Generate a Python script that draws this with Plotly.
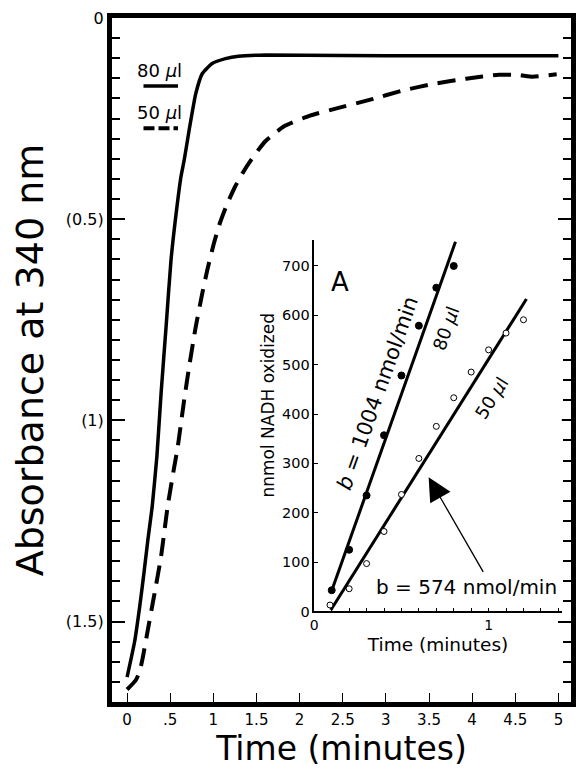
import plotly.graph_objects as go

# ---- main curves (absorbance vs time) ----
t80 = [0, 0.088, 0.146, 0.195, 0.241, 0.291, 0.345, 0.394, 0.452, 0.509, 0.573, 0.624, 0.662,
       0.719, 0.796, 0.872, 0.986, 1.14, 1.29, 1.6, 2.5, 3.5, 5.0]
a80 = [1.638, 1.549, 1.463, 1.380, 1.297, 1.214, 1.09, 0.933, 0.767, 0.602, 0.478, 0.395, 0.353,
       0.279, 0.188, 0.138, 0.113, 0.101, 0.095, 0.092, 0.093, 0.094, 0.094]

t50 = [0, 0.1, 0.146, 0.184, 0.241, 0.318, 0.394, 0.47, 0.547, 0.585, 0.662, 0.719, 0.796,
       0.872, 0.929, 1.006, 1.08, 1.16, 1.25, 1.34, 1.44, 1.6, 1.83, 2.13, 2.44,
       2.82, 3.2, 3.57, 3.93, 4.31, 4.54, 4.70, 4.98]
a50 = [1.669, 1.646, 1.624, 1.587, 1.52, 1.43, 1.338, 1.214, 1.115, 1.069, 0.949, 0.867, 0.767,
       0.684, 0.627, 0.56, 0.507, 0.462, 0.42, 0.385, 0.352, 0.307, 0.268, 0.242, 0.224,
       0.203, 0.180, 0.163, 0.151, 0.141, 0.142, 0.146, 0.140]

x_tickvals = [0, 0.5, 1, 1.5, 2, 2.5, 3, 3.5, 4, 4.5, 5]
x_ticktext = ["0", ".5", "1", "1.5", "2", "2.5", "3", "3.5", "4", "4.5", "5"]
y_tickvals = [0, 0.5, 1, 1.5]
y_ticktext = ["0", "(0.5)", "(1)", "(1.5)"]

# legend sample glyphs (main plot, data units)
legend_x = [0.19, 0.59]
legend80_y = [0.169, 0.169]
legend50_y = [0.274, 0.274]

# ---- inset (nmol NADH oxidized vs time) ----
t_in80 = [0.1, 0.2, 0.3, 0.4, 0.5, 0.6, 0.7, 0.8]
n80 = [43, 125, 235, 357, 478, 579, 656, 700]
t_in50 = [0.09, 0.2, 0.3, 0.4, 0.5, 0.6, 0.7, 0.8, 0.9, 1.0, 1.1, 1.2]
n50 = [13, 46, 97, 162, 237, 310, 375, 433, 485, 530, 564, 591]
fit80_t = [0.10, 0.81]
fit80_n = [42, 749]
fit50_t = [0.095, 1.217]
fit50_n = [3, 633]
inset_y_ticks = [0, 100, 200, 300, 400, 500, 600, 700]

FONT = "DejaVu Sans"
fig = go.Figure()

fig.add_trace(go.Scatter(x=t80, y=a80, mode="lines",
                         line=dict(color="black", width=3.5, shape="spline", smoothing=0.5),
                         showlegend=False))
fig.add_trace(go.Scatter(x=t50, y=a50, mode="lines",
                         line=dict(color="black", width=4, dash="18px,10px", shape="spline", smoothing=0.5),
                         showlegend=False))
fig.add_trace(go.Scatter(x=legend_x, y=legend80_y, mode="lines",
                         line=dict(color="black", width=3.5), showlegend=False))
fig.add_trace(go.Scatter(x=legend_x, y=legend50_y, mode="lines",
                         line=dict(color="black", width=4, dash="11px,4px"), showlegend=False))

# inset traces
fig.add_trace(go.Scatter(x=fit80_t, y=fit80_n, mode="lines", xaxis="x2", yaxis="y2",
                         line=dict(color="black", width=3), showlegend=False))
fig.add_trace(go.Scatter(x=fit50_t, y=fit50_n, mode="lines", xaxis="x2", yaxis="y2",
                         line=dict(color="black", width=3), showlegend=False))
fig.add_trace(go.Scatter(x=t_in80, y=n80, mode="markers", xaxis="x2", yaxis="y2",
                         marker=dict(color="black", size=7, line=dict(color="black", width=1)),
                         showlegend=False))
fig.add_trace(go.Scatter(x=t_in50, y=n50, mode="markers", xaxis="x2", yaxis="y2",
                         marker=dict(color="white", size=6, line=dict(color="black", width=1)),
                         showlegend=False))

annotations = [
    dict(x=0.381, y=0.130, xref="x", yref="y", text="80 <i>µ</i>l", showarrow=False,
         font=dict(family=FONT, size=18, color="black")),
    dict(x=0.381, y=0.235, xref="x", yref="y", text="50 <i>µ</i>l", showarrow=False,
         font=dict(family=FONT, size=18, color="black")),
    dict(x=0.145, y=667, xref="x2", yref="y2", text="A", showarrow=False,
         font=dict(family=FONT, size=26, color="black")),
    dict(x=0.365, y=442, xref="x2", yref="y2", text="<i>b</i> = 1004 nmol/min", showarrow=False,
         textangle=-70.4, font=dict(family=FONT, size=21, color="black")),
    dict(x=0.753, y=574, xref="x2", yref="y2", text="80 <i>µ</i>l", showarrow=False,
         textangle=-70.4, font=dict(family=FONT, size=18, color="black")),
    dict(x=1.014, y=432, xref="x2", yref="y2", text="50 <i>µ</i>l", showarrow=False,
         textangle=-57.6, font=dict(family=FONT, size=18, color="black")),
    dict(x=0.872, y=49, xref="x2", yref="y2", text="b = 574 nmol/min", showarrow=False,
         font=dict(family=FONT, size=20, color="black")),
    dict(x=0.656, y=272, xref="x2", yref="y2", ax=0.974, ay=77, axref="x2", ayref="y2",
         text="", showarrow=True, arrowhead=2, arrowsize=3.6, arrowwidth=1.3, arrowcolor="black"),
    # inset y-axis title
    dict(x=0.3405, y=0.4338, xref="paper", yref="paper", text="nnmol NADH oxidized",
         showarrow=False, textangle=-90, font=dict(family=FONT, size=17, color="black")),
]

fig.update_layout(
    width=579, height=775,
    margin=dict(l=112, r=3, t=18, b=73),
    paper_bgcolor="white", plot_bgcolor="white",
    font=dict(family=FONT, color="black"),
    xaxis=dict(range=[-0.175, 5.146], tickmode="array", tickvals=x_tickvals, ticktext=x_ticktext,
               ticks="inside", ticklen=9, tickwidth=1.3, tickcolor="black",
               showline=True, linewidth=5, linecolor="black", mirror=True,
               showgrid=False, zeroline=False, tickfont=dict(size=15),
               title=dict(text="Time (minutes)", font=dict(size=33), standoff=10)),
    yaxis=dict(range=[1.70, 0], tickmode="array", tickvals=y_tickvals, ticktext=y_ticktext,
               ticks="inside", ticklen=13, tickwidth=1.5, tickcolor="black",
               minor=dict(tickmode="linear", tick0=0, dtick=0.05, ticks="inside", ticklen=8,
                          tickwidth=1.5, tickcolor="black"),
               showline=True, linewidth=5, linecolor="black", mirror="ticks",
               showgrid=False, zeroline=False, tickfont=dict(size=16),
               title=dict(text="Absorbance at 340 nm", font=dict(size=38), standoff=12)),
    xaxis2=dict(domain=[0.4407, 0.980], anchor="y2", range=[0, 1.42],
                tickmode="array", tickvals=[0, 1], ticktext=["0", "1"],
                ticks="inside", ticklen=4, tickwidth=1, tickcolor="black",
                minor=dict(tickmode="linear", tick0=0, dtick=0.1, ticks="inside", ticklen=4,
                           tickwidth=1, tickcolor="black"),
                showline=True, linewidth=1.5, linecolor="black", showgrid=False, zeroline=False,
                tickfont=dict(size=14),
                title=dict(text="Time (minutes)", font=dict(size=18.5), standoff=6)),
    yaxis2=dict(domain=[0.1324, 0.675], anchor="x2", range=[0, 752],
                tickmode="array", tickvals=inset_y_ticks,
                ticks="inside", ticklen=4, tickwidth=1, tickcolor="black",
                showline=True, linewidth=1.5, linecolor="black", showgrid=False, zeroline=False,
                tickfont=dict(size=14.5)),
    annotations=annotations,
)

fig.write_html("out.html")
